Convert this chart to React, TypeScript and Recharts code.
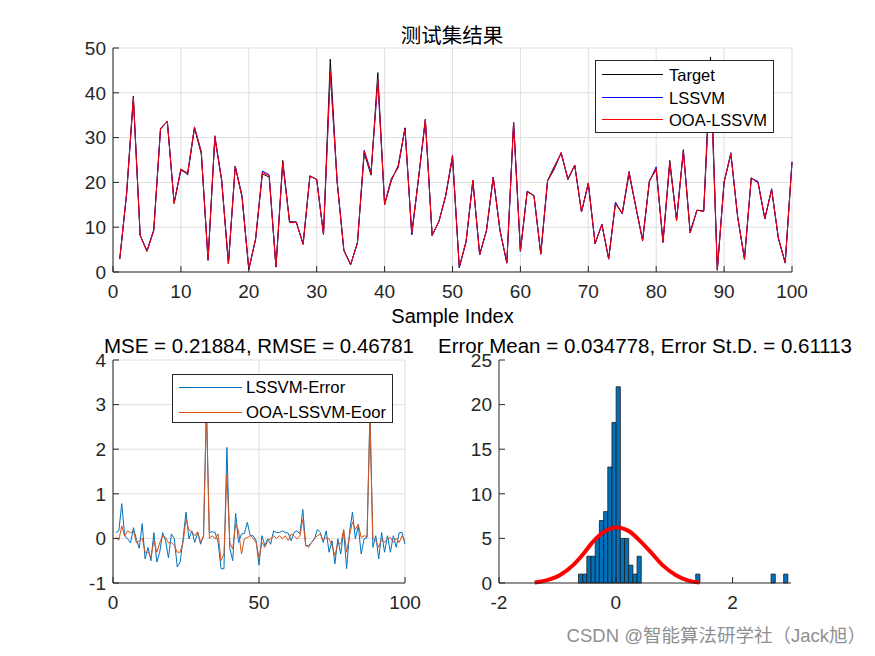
import React from 'react';
import { LineChart, Line, XAxis, YAxis, CartesianGrid, ComposedChart, ReferenceArea } from 'recharts';

// ---------- data ----------
const sampleIndex = Array.from({ length: 100 }, (_, i) => i + 1);

const target = [
  3.0, 17.5, 39.3, 8.2, 4.7, 9.3, 32.1, 33.6, 15.3, 23.0,
  21.7, 32.1, 26.4, 2.7, 29.9, 20.4, 1.9, 23.6, 16.7, 0.6,
  7.3, 21.9, 21.2, 1.1, 24.9, 11.2, 11.2, 6.2, 21.5, 20.6,
  8.4, 47.5, 20.4, 4.9, 1.7, 6.5, 26.5, 21.6, 44.5, 15.0,
  20.4, 23.8, 32.1, 8.4, 21.0, 34.1, 8.2, 11.3, 17.0, 25.5,
  1.0, 6.7, 20.4, 3.8, 9.3, 21.2, 9.3, 2.1, 33.4, 4.7,
  18.0, 17.1, 4.1, 20.4, 23.6, 26.5, 20.6, 23.8, 13.4, 19.9,
  6.4, 10.6, 3.0, 15.3, 13.0, 21.9, 14.5, 6.9, 20.4, 22.8,
  6.7, 24.9, 11.6, 27.3, 8.7, 13.8, 13.6, 48.0, 0.4, 20.1,
  26.2, 12.3, 2.8, 21.0, 19.9, 11.9, 18.4, 7.5, 2.1, 24.5,
];

const lssvmPred = [
  2.87, 17.33, 38.52, 8.14, 4.71, 9.40, 31.86, 33.62, 15.52, 22.67,
  22.16, 32.30, 26.90, 2.57, 30.43, 20.71, 1.77, 23.65, 17.14, 0.50,
  7.31, 22.54, 21.73, 1.11, 24.31, 11.21, 11.03, 6.29, 21.37, 20.73,
  8.34, 44.55, 20.27, 4.75, 1.57, 6.59, 27.18, 22.28, 42.46, 15.22,
  20.90, 23.24, 32.19, 8.30, 20.89, 33.74, 8.14, 11.24, 17.05, 26.10,
  0.94, 6.86, 20.41, 3.93, 9.13, 21.07, 9.17, 1.93, 33.27, 4.58,
  18.05, 16.97, 3.93, 20.30, 22.95, 26.66, 20.76, 23.89, 13.41, 19.70,
  6.27, 10.69, 2.83, 15.61, 13.05, 22.47, 14.51, 7.25, 20.23, 23.48,
  6.57, 24.31, 11.61, 27.02, 9.05, 13.81, 13.58, 45.15, 0.60, 20.04,
  26.66, 12.17, 3.11, 20.94, 20.21, 11.84, 18.60, 7.37, 1.97, 24.63,
];

const ooaPred = [
  2.98, 17.54, 39.02, 8.15, 4.53, 9.17, 31.93, 33.70, 15.35, 23.00,
  22.01, 32.41, 26.82, 2.75, 30.21, 20.50, 1.84, 23.58, 16.80, 0.69,
  7.46, 22.21, 21.51, 1.19, 24.47, 11.01, 11.05, 6.14, 21.35, 20.69,
  8.34, 44.60, 20.40, 4.84, 1.71, 6.40, 27.00, 21.95, 43.07, 15.09,
  20.64, 23.48, 31.93, 8.75, 21.01, 34.08, 8.14, 11.30, 17.09, 25.94,
  1.09, 6.90, 20.45, 3.81, 9.24, 21.20, 9.24, 2.11, 33.34, 4.75,
  17.90, 17.04, 4.11, 20.34, 23.17, 26.66, 20.80, 23.89, 13.40, 19.84,
  6.30, 10.65, 2.98, 15.31, 13.16, 22.29, 14.60, 7.03, 20.20, 23.11,
  6.64, 24.53, 11.40, 26.98, 8.68, 13.74, 13.56, 45.30, 0.40, 20.15,
  26.40, 12.31, 2.89, 21.01, 19.88, 11.99, 18.40, 7.59, 2.04, 24.55,
];

const lssvmError = [
  0.13, 0.17, 0.78, 0.06, -0.01, -0.10, 0.24, -0.02, -0.22, 0.33,
  -0.46, -0.20, -0.50, 0.13, -0.53, -0.31, 0.13, -0.05, -0.44, 0.10,
  -0.01, -0.64, -0.53, -0.01, 0.59, -0.01, 0.17, -0.09, 0.13, -0.13,
  0.06, 2.95, 0.13, 0.15, 0.13, -0.09, -0.68, -0.68, 2.04, -0.22,
  -0.50, 0.56, -0.09, 0.10, 0.11, 0.36, 0.06, 0.06, -0.05, -0.60,
  0.06, -0.16, -0.01, -0.13, 0.17, 0.13, 0.13, 0.17, 0.13, 0.12,
  -0.05, 0.13, 0.17, 0.10, 0.65, -0.16, -0.16, -0.09, -0.01, 0.20,
  0.13, -0.09, 0.17, -0.31, -0.05, -0.57, -0.01, -0.35, 0.17, -0.68,
  0.13, 0.59, -0.01, 0.28, -0.35, -0.01, 0.02, 2.85, -0.20, 0.06,
  -0.46, 0.13, -0.31, 0.06, -0.31, 0.06, -0.20, 0.13, 0.13, -0.13,
];

const ooaError = [
  0.02, -0.04, 0.28, 0.05, 0.17, 0.13, 0.17, -0.10, -0.05, 0.00,
  -0.31, -0.31, -0.42, -0.05, -0.31, -0.10, 0.06, 0.02, -0.10, -0.09,
  -0.16, -0.31, -0.31, -0.09, 0.43, 0.19, 0.15, 0.06, 0.15, -0.09,
  0.06, 2.90, 0.00, 0.06, -0.01, 0.10, -0.50, -0.35, 1.43, -0.09,
  -0.24, 0.32, 0.17, -0.35, -0.01, 0.02, 0.06, 0.00, -0.09, -0.44,
  -0.09, -0.20, -0.05, -0.01, 0.06, 0.00, 0.06, -0.01, 0.06, -0.05,
  0.10, 0.06, -0.01, 0.06, 0.43, -0.16, -0.20, -0.09, 0.00, 0.06,
  0.10, -0.05, 0.02, -0.01, -0.16, -0.39, -0.10, -0.13, 0.20, -0.31,
  0.06, 0.37, 0.20, 0.32, 0.02, 0.06, 0.04, 2.70, 0.00, -0.05,
  -0.20, -0.01, -0.09, -0.01, 0.02, -0.09, 0.00, -0.09, 0.06, -0.05,
];

// histogram of errors (bin left edges and counts)
const binWidth = 0.0717;
const binLeft = [
  -0.639, -0.567, -0.496, -0.424, -0.352, -0.281, -0.209, -0.137, -0.066, 0.006,
  0.078, 0.149, 0.221, 0.293, 0.364, 1.369, 2.659, 2.874,
];
const binCount = [1, 1, 3, 3, 5, 7, 8, 13, 18, 22, 5, 5, 2, 1, 3, 1, 1, 1];

// fitted normal curve
const curveX = [-1.39, -1.19, -0.96, -0.73, -0.55, -0.40, -0.20, 0.02, 0.24, 0.44, 0.62, 0.80, 1.03, 1.23, 1.43];
const curveY = [0.05, 0.30, 0.88, 2.0, 3.3, 4.55, 5.75, 6.22, 5.75, 4.55, 3.3, 2.0, 0.88, 0.30, 0.05];

// ticks
const topXTicks = [0, 10, 20, 30, 40, 50, 60, 70, 80, 90, 100];
const topYTicks = [0, 10, 20, 30, 40, 50];
const errXTicks = [0, 50, 100];
const errYTicks = [-1, 0, 1, 2, 3, 4];
const histXTicks = [-2, 0, 2];
const histYTicks = [0, 5, 10, 15, 20, 25];

// texts
const mainTitle = '测试集结果';
const xLabel = 'Sample Index';
const errTitle = 'MSE = 0.21884, RMSE = 0.46781';
const histTitle = 'Error Mean = 0.034778, Error St.D. = 0.61113';
const topLegend = ['Target', 'LSSVM', 'OOA-LSSVM'];
const errLegend = ['LSSVM-Error', 'OOA-LSSVM-Eoor'];
const watermark = 'CSDN @智能算法研学社（Jack旭）';

// ---------- tables ----------
const topData = sampleIndex.map((n, i) => ({ n, target: target[i], lssvm: lssvmPred[i], ooa: ooaPred[i] }));
const errData = sampleIndex.map((n, i) => ({ n, e1: lssvmError[i], e2: ooaError[i] }));
const curveData = curveX.map((x, i) => ({ x, y: curveY[i] }));
const bins = binLeft.map((l, i) => ({ l, r: l + binWidth, c: binCount[i] }));

// ---------- styles ----------
const FONT = '"Liberation Sans", Arial, Helvetica, sans-serif';
const CJK = '"Noto Sans CJK SC", "Noto Sans", sans-serif';
const MIX = '"Liberation Sans", "Noto Sans CJK SC", sans-serif';
const AX = '#262626';
const GRID = '#dfdfdf';
const tickStyle = { fill: AX, fontSize: 19, fontFamily: FONT };

const textDiv = (text: string, cx: number, top: number, size: number, width = 500, family = FONT) => (
  <div
    style={{
      position: 'absolute',
      left: cx - width / 2,
      top,
      width,
      textAlign: 'center',
      fontSize: size,
      lineHeight: `${size}px`,
      fontFamily: family,
      color: '#000',
      whiteSpace: 'pre',
    }}
  >
    {text}
  </div>
);

const legendBox = (
  labels: string[],
  colors: string[],
  left: number,
  top: number,
  w: number,
  h: number,
  rowY: number[],
  lineX: number,
  lineW: number,
  textX: number,
  size: number,
) => (
  <div
    style={{
      position: 'absolute',
      left,
      top,
      width: w,
      height: h,
      boxSizing: 'border-box',
      border: `1px solid ${AX}`,
      background: '#fff',
    }}
  >
    {labels.map((lab, i) => (
      <React.Fragment key={lab}>
        <div
          style={{
            position: 'absolute',
            left: lineX,
            top: Math.round(rowY[i]) - 1,
            width: lineW,
            height: 1,
            background: colors[i],
          }}
        />
        <div
          style={{
            position: 'absolute',
            left: textX,
            top: rowY[i] - size * 0.49,
            fontSize: size,
            lineHeight: `${size}px`,
            fontFamily: FONT,
            color: '#000',
            whiteSpace: 'pre',
          }}
        >
          {lab}
        </div>
      </React.Fragment>
    ))}
  </div>
);

export default function App() {
  return (
    <div
      style={{
        position: 'absolute',
        left: 0,
        top: 0,
        width: 875,
        height: 656,
        background: '#fff',
        overflow: 'hidden',
      }}
    >
      {/* top: predictions */}
      <div style={{ position: 'absolute', left: 0, top: 0 }}>
        <LineChart width={875} height={340} data={topData} margin={{ top: 48, right: 83, bottom: 0, left: 0 }}>
          <CartesianGrid stroke={GRID} strokeWidth={1} />
          <XAxis dataKey="n" type="number" domain={[0, 100]} ticks={topXTicks} interval={0} height={68}
            tickSize={-6} tickMargin={19} stroke={AX} tick={tickStyle} />
          <XAxis xAxisId="top" orientation="top" type="number" domain={[0, 100]} ticks={topXTicks} interval={0}
            height={0} tickSize={-6} tick={false} stroke={AX} />
          <YAxis type="number" domain={[0, 50]} ticks={topYTicks} interval={0} width={113}
            tickSize={-6} tickMargin={13} stroke={AX} tick={tickStyle} />
          <YAxis yAxisId="right" orientation="right" type="number" domain={[0, 50]} ticks={topYTicks} interval={0}
            width={0} tickSize={-6} tick={false} stroke={AX} />
          <Line dataKey="target" type="linear" stroke="#000000" strokeWidth={1} dot={false} isAnimationActive={false} />
          <Line dataKey="lssvm" type="linear" stroke="#0000ff" strokeWidth={1} dot={false} isAnimationActive={false} />
          <Line dataKey="ooa" type="linear" stroke="#ff0000" strokeWidth={1} dot={false} isAnimationActive={false} />
        </LineChart>
      </div>

      {/* bottom-left: errors */}
      <div style={{ position: 'absolute', left: 0, top: 340 }}>
        <LineChart width={437} height={316} data={errData} margin={{ top: 20, right: 32, bottom: 0, left: 0 }}>
          <CartesianGrid stroke={GRID} strokeWidth={1} />
          <XAxis dataKey="n" type="number" domain={[0, 100]} ticks={errXTicks} interval={0} height={73}
            tickSize={-6} tickMargin={19} stroke={AX} tick={tickStyle} />
          <XAxis xAxisId="top" orientation="top" type="number" domain={[0, 100]} ticks={errXTicks} interval={0}
            height={0} tickSize={-6} tick={false} stroke={AX} />
          <YAxis type="number" domain={[-1, 4]} ticks={errYTicks} interval={0} width={113}
            tickSize={-6} tickMargin={13} stroke={AX} tick={tickStyle} />
          <YAxis yAxisId="right" orientation="right" type="number" domain={[-1, 4]} ticks={errYTicks} interval={0}
            width={0} tickSize={-6} tick={false} stroke={AX} />
          <Line dataKey="e1" type="linear" stroke="#0072BD" strokeWidth={1} dot={false} isAnimationActive={false} />
          <Line dataKey="e2" type="linear" stroke="#D95319" strokeWidth={1} dot={false} isAnimationActive={false} />
        </LineChart>
      </div>

      {/* bottom-right: histogram */}
      <div style={{ position: 'absolute', left: 437, top: 340 }}>
        <ComposedChart width={438} height={316} data={curveData} margin={{ top: 20, right: 84, bottom: 0, left: 0 }}>
          <XAxis dataKey="x" type="number" domain={[-2, 3]} ticks={histXTicks} interval={0} height={73}
            tickSize={-6} tickMargin={19} stroke={AX} tick={tickStyle} />
          <XAxis xAxisId="top" orientation="top" type="number" domain={[-2, 3]} ticks={histXTicks} interval={0}
            height={0} tickSize={-6} tick={false} stroke={AX} />
          <YAxis type="number" domain={[0, 25]} ticks={histYTicks} interval={0} width={62}
            tickSize={-6} tickMargin={13} stroke={AX} tick={tickStyle} />
          <YAxis yAxisId="right" orientation="right" type="number" domain={[0, 25]} ticks={histYTicks} interval={0}
            width={0} tickSize={-6} tick={false} stroke={AX} />
          {bins.map((b, i) => (
            <ReferenceArea key={i} x1={b.l} x2={b.r} y1={0} y2={b.c} fill="#0072BD" fillOpacity={1}
              stroke="#1a1a1a" strokeWidth={0.8} ifOverflow="visible" />
          ))}
          <Line dataKey="y" type="monotone" stroke="#ff0000" strokeWidth={4} dot={false} isAnimationActive={false} />
        </ComposedChart>
      </div>

      {/* texts */}
      {textDiv(mainTitle, 452, 24, 20.5, 300, CJK)}
      {textDiv(xLabel, 452.5, 306.4, 20)}
      {textDiv(errTitle, 259, 336.4, 20.5, 420)}
      {textDiv(histTitle, 645, 336.4, 20.5, 460)}

      {legendBox(topLegend, ['#000000', '#0000ff', '#ff0000'], 595, 60, 179, 73, [14.3, 36.7, 59.3], 5.7, 61.6, 73, 16.5)}
      {legendBox(errLegend, ['#0072BD', '#D95319'], 172, 374, 221, 49, [13.3, 37.7], 6.3, 62.4, 73, 16.7)}

      <div
        style={{
          position: 'absolute',
          right: 9,
          top: 627,
          fontSize: 18.5,
          lineHeight: '18.5px',
          fontFamily: MIX,
          color: '#8f8f8f',
          whiteSpace: 'pre',
        }}
      >
        {watermark}
      </div>
    </div>
  );
}
